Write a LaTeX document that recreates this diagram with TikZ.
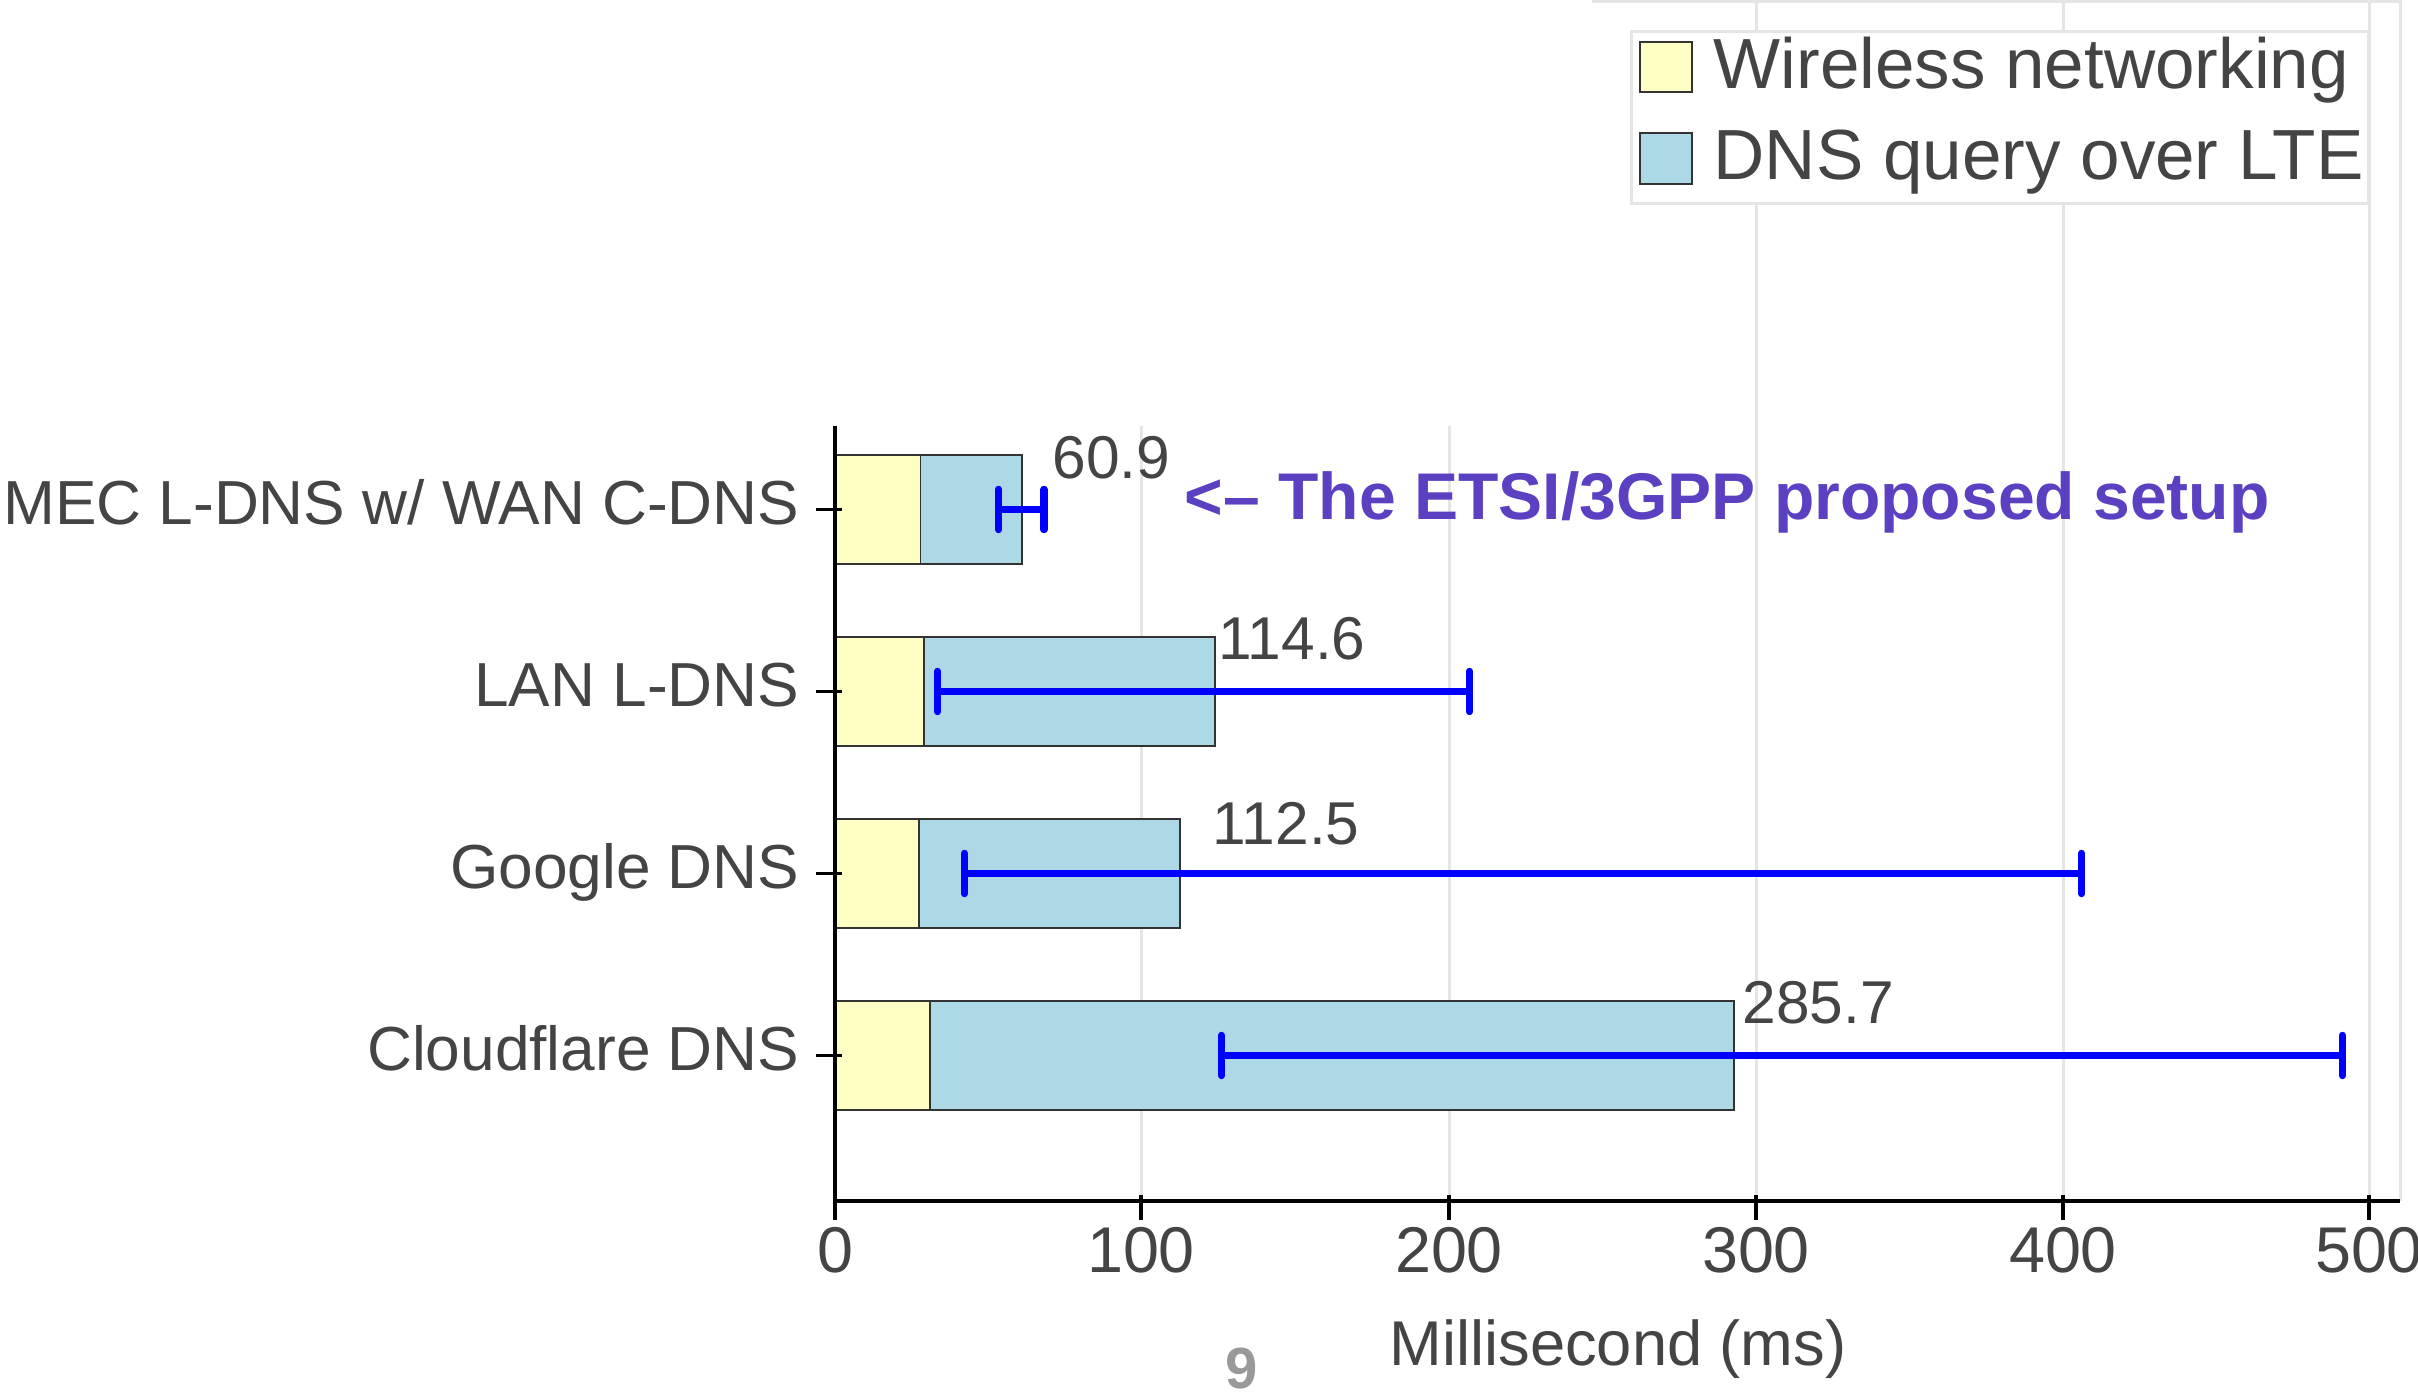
\documentclass[tikz,border=0pt]{standalone}
\usepackage{fontspec}
\setmainfont{Liberation Sans}
\usetikzlibrary{arrows.meta}
\definecolor{txtgray}{HTML}{444444}
\definecolor{wlyellow}{RGB}{255,255,196}
\definecolor{ltequery}{RGB}{173,216,230}
\definecolor{gridgray}{RGB}{229,229,229}
\definecolor{notepurple}{RGB}{92,64,194}
\definecolor{pagegray}{RGB}{153,153,153}
\begin{document}
\begin{tikzpicture}[x=1cm,y=1cm,
    gridline/.style={gridgray,line width=0.85pt},
    wirelessbar/.style={fill=wlyellow,draw=black!80,line width=0.5pt},
    ltebar/.style={fill=ltequery,draw=black!80,line width=0.5pt},
    errbar/.style={blue,line width=2pt,{Bar[width=11.5pt,round]}-{Bar[width=11.5pt,round]}},
    axisln/.style={black,line width=1pt},
    catlabel/.style={txtgray,anchor=base east,inner sep=0pt,font=\fontsize{17.7}{20}\selectfont},
    ticklabel/.style={txtgray,anchor=base,inner sep=0pt,font=\fontsize{18.4}{20}\selectfont},
    vallabel/.style={txtgray,anchor=base west,inner sep=0pt,font=\fontsize{17.2}{20}\selectfont},
    legtext/.style={txtgray,anchor=base west,inner sep=0pt,font=\fontsize{20.2}{24}\selectfont}]
  \useasboundingbox (0,0) rectangle (24.18,13.97);
  % grid and panel frame
  \draw[gridline] (11.41,1.96) -- (11.41,9.71);
  \draw[gridline] (14.49,1.96) -- (14.49,9.71);
  \draw[gridline] (17.56,1.96) -- (17.56,13.97);
  \draw[gridline] (20.63,1.96) -- (20.63,13.97);
  \draw[gridline] (23.69,1.96) -- (23.69,13.97);
  \draw[gridline] (15.92,13.95) -- (24.00,13.95) -- (24.00,1.96);
  % legend
  \draw[gridline,fill=white] (16.31,11.93) rectangle (23.68,13.65);
  \draw[wirelessbar] (16.40,13.05) rectangle (16.92,13.55);
  \draw[ltebar] (16.40,12.13) rectangle (16.92,12.64);
  \node[legtext] (legwl) at (17.13,13.085) {Wireless networking};
  \node[legtext] (leglte) at (17.13,12.17) {DNS query over LTE};
  % bars
  \draw[wirelessbar] (8.35,8.33) rectangle (9.205,9.42);
  \draw[ltebar] (9.205,8.33) rectangle (10.22,9.42);
  \draw[wirelessbar] (8.35,6.51) rectangle (9.24,7.60);
  \draw[ltebar] (9.24,6.51) rectangle (12.15,7.60);
  \draw[wirelessbar] (8.35,4.69) rectangle (9.19,5.78);
  \draw[ltebar] (9.19,4.69) rectangle (11.80,5.78);
  \draw[wirelessbar] (8.35,2.87) rectangle (9.30,3.96);
  \draw[ltebar] (9.30,2.87) rectangle (17.34,3.96);
  % spread
  \draw[errbar] (9.95,8.875) -- (10.475,8.875);
  \draw[errbar] (9.34,7.055) -- (14.73,7.055);
  \draw[errbar] (9.61,5.235) -- (20.85,5.235);
  \draw[errbar] (12.18,3.415) -- (23.46,3.415);
  % axes
  \draw[axisln] (8.35,9.71) -- (8.35,1.96) -- (24.00,1.96);
  \draw[axisln] (8.35,2.02) -- (8.35,1.77);
  \draw[axisln] (11.41,2.02) -- (11.41,1.77);
  \draw[axisln] (14.49,2.02) -- (14.49,1.77);
  \draw[axisln] (17.56,2.02) -- (17.56,1.77);
  \draw[axisln] (20.63,2.02) -- (20.63,1.77);
  \draw[axisln] (23.69,2.02) -- (23.69,1.77);
  \draw[axisln] (8.16,8.875) -- (8.42,8.875);
  \draw[axisln] (8.16,7.055) -- (8.42,7.055);
  \draw[axisln] (8.16,5.235) -- (8.42,5.235);
  \draw[axisln] (8.16,3.415) -- (8.42,3.415);
  \node[ticklabel] (t0) at (8.35,1.24) {0};
  \node[ticklabel] (t100) at (11.41,1.24) {100};
  \node[ticklabel] (t200) at (14.49,1.24) {200};
  \node[ticklabel] (t300) at (17.56,1.24) {300};
  \node[ticklabel] (t400) at (20.63,1.24) {400};
  \node[ticklabel] (t500) at (23.69,1.24) {500};
  \node[txtgray,anchor=base,inner sep=0pt,font=\fontsize{18}{20}\selectfont] (xtitle) at (16.18,0.31) {Millisecond (ms)};
  \node[catlabel] (mec) at (8.00,8.725) {MEC L-DNS w/ WAN C-DNS};
  \node[catlabel] (lan) at (8.00,6.905) {LAN L-DNS};
  \node[catlabel] (google) at (8.00,5.085) {Google DNS};
  \node[catlabel] (cloudflare) at (8.00,3.265) {Cloudflare DNS};
  % totals
  \node[vallabel] (vmec) at (10.52,9.18) {60.9};
  \node[vallabel] (vlan) at (12.18,7.37) {114.6};
  \node[vallabel] (vgoogle) at (12.12,5.52) {112.5};
  \node[vallabel] (vcloudflare) at (17.42,3.73) {285.7};
  \node[notepurple,anchor=base west,inner sep=0pt,font=\bfseries\fontsize{18.8}{20}\selectfont] (etsi) at (11.84,8.77) {<-- The ETSI/3GPP proposed setup};
  \node[pagegray,anchor=base,inner sep=0pt,font=\bfseries\fontsize{16.5}{18}\selectfont] (pagenum) at (12.415,0.08) {9};
\end{tikzpicture}
\end{document}
